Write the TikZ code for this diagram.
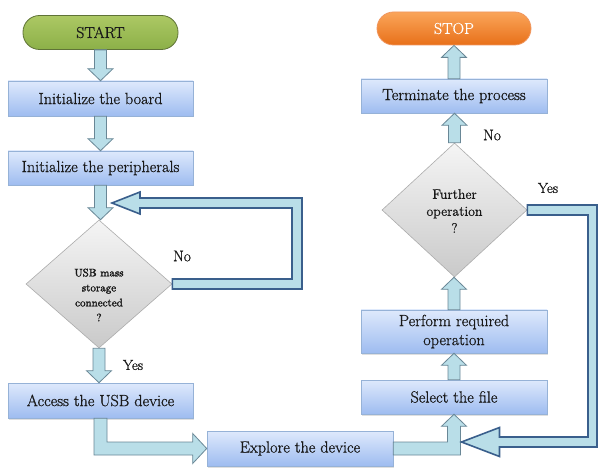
\documentclass[tikz,border=0pt]{standalone}
\usepackage{fontspec}
\newfontfamily\tnr{Latin Modern Roman}[FakeBold=0.8]
\newfontfamily\tnrb{Latin Modern Roman}[FakeBold=2]
\usetikzlibrary{shapes.geometric,calc,shadows}
\definecolor{arrfill}{RGB}{185,222,232}
\definecolor{arrline}{RGB}{105,135,150}
\definecolor{looplineC}{RGB}{58,95,140}
\definecolor{boxtop}{RGB}{222,233,252}
\definecolor{boxbot}{RGB}{158,188,240}
\definecolor{boxline}{RGB}{150,178,215}
\definecolor{txt}{RGB}{25,25,25}
\definecolor{greentop}{RGB}{172,200,100}
\definecolor{greenbot}{RGB}{140,176,72}
\definecolor{greenline}{RGB}{95,115,55}
\definecolor{orangetop}{RGB}{250,165,90}
\definecolor{orangebot}{RGB}{232,112,25}
\definecolor{orangeline}{RGB}{240,150,95}
\newcommand\arrowdown[2]{%
  \draw[barrow] let \p1=(#1.south), \p2=(#2.north) in
   (\x1-6pt,\y1) -- (\x1-6pt,\y2+12pt) -- (\x1-12.5pt,\y2+12pt) -- (\x1,\y2)
   -- (\x1+12.5pt,\y2+12pt) -- (\x1+6pt,\y2+12pt) -- (\x1+6pt,\y1) -- cycle;}
\newcommand\arrowup[2]{%
  \draw[barrow] let \p1=(#1.north), \p2=(#2.south) in
   (\x1-6pt,\y1) -- (\x1-6pt,\y2-12pt) -- (\x1-12.5pt,\y2-12pt) -- (\x1,\y2)
   -- (\x1+12.5pt,\y2-12pt) -- (\x1+6pt,\y2-12pt) -- (\x1+6pt,\y1) -- cycle;}
\begin{document}
\begin{tikzpicture}[x=1pt,y=-1pt,
  every node/.style={font=\tnr},
  box/.style={rectangle, draw=boxline, line width=0.6pt, top color=boxtop, bottom color=boxbot,
    minimum width=185pt, minimum height=35pt, inner sep=2pt, text=txt, align=center,
    font=\tnr\fontsize{16.2}{19}\selectfont,
    drop shadow={opacity=0.25,shadow xshift=1pt,shadow yshift=-1.5pt}},
  pill/.style={rectangle, rounded corners=16.5pt, line width=0.8pt, minimum width=155pt,
    minimum height=34pt, inner sep=2pt, font=\tnr\fontsize{15.8}{19}\selectfont},
  decision/.style={diamond, draw=gray!65, line width=0.6pt, top color=gray!8, bottom color=gray!42,
    inner sep=0pt, minimum width=146pt, minimum height=128pt},
  dtext/.style={align=center, text=txt, inner sep=0pt},
  lbl/.style={text=txt, font=\tnr\fontsize{15.5}{19}\selectfont, inner sep=0pt},
  barrow/.style={fill=arrfill, draw=arrline, line width=0.8pt, line join=miter},
  loopar/.style={fill=arrfill, draw=looplineC, line width=1.6pt, line join=miter}
]
\useasboundingbox (0,0) rectangle (598,468);
\fill[white] (0,0) rectangle (598,468);

% nodes
\node[pill, top color=greentop, bottom color=greenbot, draw=greenline, text=txt] (start) at (100.5,32.5) {START};
\node[box] (board) at (100.5,98.5) {Initialize the board};
\node[box, minimum height=34pt] (periph) at (100.5,168) {Initialize the peripherals};
\node[decision] (usb) at (99,284) {};
\node[dtext, font=\tnrb\fontsize{11}{15}\selectfont] (usbtext) at (99,295) {USB mass\\storage\\connected\\?};
\node[box] (access) at (100.5,400.5) {Access the USB device};
\node[box, minimum width=186pt] (explore) at (300,448.5) {Explore the device};
\node[box, minimum width=186pt, minimum height=34pt] (select) at (454,397) {Select the file};
\node[box, minimum width=186pt, minimum height=43pt] (perform) at (454,331.5) {Perform required\\operation};
\node[decision, minimum width=145pt, minimum height=134pt] (further) at (454.5,210) {};
\node[dtext, font=\tnr\fontsize{13.8}{17}\selectfont] (furthertext) at (454.5,211) {Further\\operation\\?};
\node[box, minimum width=186pt, minimum height=34pt] (term) at (454,96) {Terminate the process};
\node[pill, minimum width=154pt, minimum height=33pt, top color=orangetop, bottom color=orangebot, draw=orangeline, text=white] (stop) at (454,28.5) {STOP};

\coordinate (noTip) at (112,203);
\coordinate (noCorner) at (297,203);
\coordinate (yesTip) at (461.5,442);
\coordinate (yesCorner) at (593,442);

% straight arrows
\arrowdown{start}{board}
\arrowdown{board}{periph}
\arrowdown{periph}{usb}
\arrowdown{usb}{access}
\arrowup{select}{perform}
\arrowup{perform}{further}
\arrowup{further}{term}
\arrowup{term}{stop}

% access -> explore (elbow)
\draw[barrow] let \p1=(access.south), \p2=(explore.west) in
  (\x1-6.5pt,\y1) -- (\x1-6.5pt,\y2-6.5pt) -- (\x2-14pt,\y2-6.5pt) -- (\x2-14pt,\y2-15pt)
  -- (\x2,\y2) -- (\x2-14pt,\y2+15pt) -- (\x2-14pt,\y2+6.5pt) -- (\x1+6.5pt,\y2+6.5pt)
  -- (\x1+6.5pt,\y1) -- cycle;

% explore -> select (elbow)
\draw[barrow] let \p1=(explore.east), \p2=(select.south) in
  (\x1,\y1+6.5pt) -- (\x2-6.5pt,\y1+6.5pt) -- (\x2-6.5pt,\y2-12pt) -- (\x2-12.5pt,\y2-12pt)
  -- (\x2,\y2) -- (\x2+12.5pt,\y2-12pt) -- (\x2+6.5pt,\y2-12pt) -- (\x2+6.5pt,\y1-6.5pt)
  -- (\x1,\y1-6.5pt) -- cycle;

% No loop
\draw[loopar] let \p1=(usb.east), \p2=(noTip), \p3=(noCorner) in
  (\x1,\y1+5pt) -- (\x3-5pt,\y1+5pt) -- (\x3-5pt,\y2-5pt) -- (\x2+28pt,\y2-5pt)
  -- (\x2+28pt,\y2-11pt) -- (\x2,\y2) -- (\x2+28pt,\y2+11pt) -- (\x2+28pt,\y2+5pt)
  -- (\x3+5pt,\y2+5pt) -- (\x3+5pt,\y1-5pt) -- (\x1,\y1-5pt) -- cycle;

% Yes loop
\draw[loopar] let \p1=(further.east), \p2=(yesTip), \p3=(yesCorner) in
  (\x1,\y1+5pt) -- (\x3+4pt,\y1+5pt) -- (\x3+4pt,\y2-5pt) -- (\x2+38pt,\y2-5pt)
  -- (\x2+38pt,\y2-14.5pt) -- (\x2,\y2) -- (\x2+38pt,\y2+14.5pt) -- (\x2+38pt,\y2+5pt)
  -- (\x3-5pt,\y2+5pt) -- (\x3-5pt,\y1-5pt) -- (\x1,\y1-5pt) -- cycle;

% labels
\node[lbl] (lno1) at (182,256) {No};
\node[lbl, font=\tnr\fontsize{14.5}{18}\selectfont] (lyes1) at (133,365) {Yes};
\node[lbl] (lno2) at (492,135) {No};
\node[lbl, font=\tnr\fontsize{14.5}{18}\selectfont] (lyes2) at (548,188) {Yes};
\end{tikzpicture}
\end{document}
